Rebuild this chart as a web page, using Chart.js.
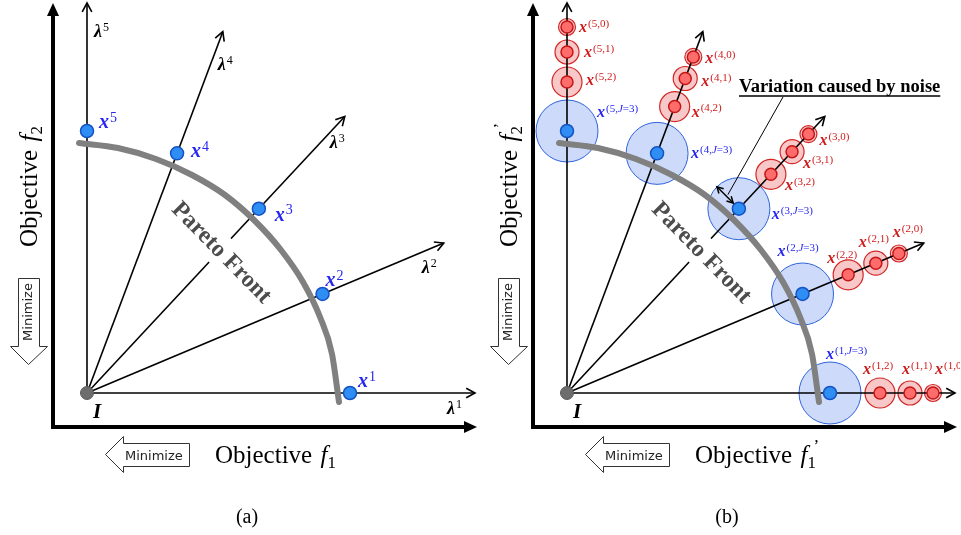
<!DOCTYPE html>
<html>
<head>
<meta charset="utf-8">
<script src="https://cdn.jsdelivr.net/npm/chart.js@4.4.1/dist/chart.umd.min.js"></script>
<style>
    html, body { margin: 0; padding: 0; background: #fff; overflow: hidden; }
    #wrap { position: relative; width: 961px; height: 535px; }
    #wrap canvas { position: absolute; top: 0; }
</style>
</head>
<body>
<div id="wrap">
    <canvas id="panelA" width="480" height="535" style="left:0"></canvas>
    <canvas id="panelB" width="480" height="535" style="left:480px"></canvas>
</div>
<script>
// Weight vectors (rays from the ideal point I), angle in degrees and length
const rayAngles = [0, 22.8, 47.0, 69.4, 90];
const rayLengths = [3.88, 3.87, 3.78, 3.86, 3.90];

// Pareto front
const frontX = [-0.08, 0.31, 0.69, 1.05, 1.38, 1.68, 1.94, 2.16, 2.33, 2.45, 2.52];
const frontY = [2.50, 2.45, 2.34, 2.18, 1.98, 1.72, 1.43, 1.11, 0.76, 0.39, -0.09];

// Distance of each solution from I along its ray
const solutionDist = [2.63, 2.555, 2.52, 2.56, 2.62];      // x^k  /  x^(k,J=3)
const sampleDist0 = [3.66, 3.60, 3.54, 3.59, 3.66];        // x^(k,0)
const sampleDist1 = [3.43, 3.35, 3.30, 3.36, 3.41];        // x^(k,1)
const sampleDist2 = [3.13, 3.05, 2.99, 3.06, 3.11];        // x^(k,2)

// Noise level (radius of the variation circle) for j = 0, 1, 2, J=3
const noiseLevels = [0.085, 0.12, 0.15, 0.31];

// Axis frame
const axisCorner = -0.34;
const axisTip = 3.85;

const SERIF = "'Liberation Serif', 'Times New Roman', serif";
const SANS = "'DejaVu Sans', Verdana, sans-serif";
const BLUE_TEXT = '#2626f0';
const RED_TEXT = '#cf1b1b';

// label offsets (pixels) from the point they belong to
const lambdaOffsets = [[-28, 21], [-22, 30], [-15, 31], [-5, 38], [7, 34]];
const solutionOffsets = [[8, -6], [3, -8], [16, 12], [14, 4], [12, -3]];
const noisyOffsets = [[-4, -34], [-25, -38], [33, 10], [34, 5], [30, -14]];
const sampleOffsets = [
    [[2, -19], [-6, -16], [11, 11], [12, 6], [12, 5]],
    [[-8, -19], [-17, -16], [11, 16], [16, 8], [17, 5]],
    [[-17, -19], [-21, -12], [14, 16], [17, 10], [19, 3]]
];

function polar(r, deg) {
    const a = deg * Math.PI / 180;
    return { x: r * Math.cos(a), y: r * Math.sin(a) };
}

function pxRadius(ctx, level) {
    const s = ctx.chart.scales.x;
    return s.getPixelForValue(level) - s.getPixelForValue(0);
}

function alongRays(dists) {
    return dists.map((r, k) => polar(r, rayAngles[k]));
}

function buildDatasets(noisy) {
    const ds = [];
    ds.push({
        key: 'axes',
        data: [{ x: axisTip, y: axisCorner }, { x: axisCorner, y: axisCorner }, { x: axisCorner, y: axisTip }],
        showLine: true, borderColor: '#000', borderWidth: 4, borderJoinStyle: 'miter',
        pointRadius: 0, order: 100
    });
    rayAngles.forEach((a, k) => ds.push({
        key: 'ray', data: [{ x: 0, y: 0 }, polar(rayLengths[k], a)],
        showLine: true, borderColor: '#000', borderWidth: 1.6, pointRadius: 0, order: 80
    }));
    if (noisy) {
        ds.push({
            key: 'noiseJ', data: alongRays(solutionDist),
            pointRadius: c => pxRadius(c, noiseLevels[3]),
            backgroundColor: 'rgba(196,212,248,0.85)', borderColor: '#2f63dc', borderWidth: 1, order: 90
        });
        [sampleDist0, sampleDist1, sampleDist2].forEach((d, j) => ds.push({
            key: 'halo', data: alongRays(d),
            pointRadius: c => pxRadius(c, noiseLevels[j]),
            backgroundColor: '#f8c8c8', borderColor: '#d32626', borderWidth: 1.2, order: 85
        }));
        [sampleDist0, sampleDist1, sampleDist2].forEach((d, j) => ds.push({
            key: 'sample' + j, data: alongRays(d),
            pointRadius: 6, backgroundColor: '#ff6c6c', borderColor: '#c41616', borderWidth: 1.5, order: 50
        }));
    }
    ds.push({
        key: 'front', data: frontX.map((x, i) => ({ x, y: frontY[i] })),
        showLine: true, cubicInterpolationMode: 'monotone', borderColor: '#808080', borderWidth: 6,
        borderCapStyle: 'round', pointRadius: 0, order: 70
    });
    ds.push({
        key: 'ideal', data: [{ x: 0, y: 0 }],
        pointRadius: 6.5, backgroundColor: '#6d6d6d', borderColor: '#5c5c5c', borderWidth: 1, order: 60
    });
    ds.push({
        key: 'solutions', data: alongRays(solutionDist),
        pointRadius: 6.5, backgroundColor: '#2e8ef4', borderColor: '#1552c4', borderWidth: 1.5, order: 50
    });
    return ds;
}

function metaByKey(chart, key) {
    const out = [];
    chart.data.datasets.forEach((d, i) => { if (d.key === key) out.push(chart.getDatasetMeta(i)); });
    return out;
}

// x^sup style labels
function drawSup(ctx, x, y, base, sup, color, size) {
    ctx.save();
    ctx.fillStyle = color;
    ctx.textAlign = 'left';
    ctx.textBaseline = 'alphabetic';
    ctx.font = `italic bold ${size}px ${SERIF}`;
    ctx.fillText(base, x, y);
    let cx = x + ctx.measureText(base).width + 1;
    const ss = Math.round(size * 0.68);
    const sy = y - size * 0.32;
    sup.split(/(J)/).filter(Boolean).forEach(part => {
        ctx.font = `${part === 'J' ? 'italic ' : ''}${ss}px ${SERIF}`;
        ctx.fillText(part, cx, sy);
        cx += ctx.measureText(part).width;
    });
    ctx.restore();
}

function drawObjective(ctx, x, y, sub, prime) {
    ctx.fillStyle = '#000';
    ctx.textAlign = 'left';
    ctx.textBaseline = 'alphabetic';
    ctx.font = `25px ${SERIF}`;
    ctx.fillText('Objective ', x, y);
    let cx = x + ctx.measureText('Objective ').width + 2;
    ctx.font = `italic 25px ${SERIF}`;
    ctx.fillText('f', cx, y);
    cx += ctx.measureText('f').width;
    ctx.font = `17px ${SERIF}`;
    ctx.fillText(sub, cx, y + 5);
    if (prime) {
        ctx.font = `17px ${SERIF}`;
        ctx.fillText('\u2019', cx + 6, y - 12);
    }
}

function drawMinimize(ctx) {
    ctx.save();
    ctx.strokeStyle = '#333';
    ctx.lineWidth = 1;
    ctx.fillStyle = '#fff';
    // horizontal, pointing left
    ctx.beginPath();
    ctx.moveTo(105.5, 454.5);
    ctx.lineTo(123.5, 436.5);
    ctx.lineTo(123.5, 443.5);
    ctx.lineTo(189.5, 443.5);
    ctx.lineTo(189.5, 466.5);
    ctx.lineTo(123.5, 466.5);
    ctx.lineTo(123.5, 472.5);
    ctx.closePath();
    ctx.fill();
    ctx.stroke();
    ctx.fillStyle = '#222';
    ctx.font = `13px ${SANS}`;
    ctx.textBaseline = 'alphabetic';
    ctx.fillText('Minimize', 125, 460);
    // vertical, pointing down
    ctx.fillStyle = '#fff';
    ctx.beginPath();
    ctx.moveTo(28.5, 364.5);
    ctx.lineTo(10.5, 346.5);
    ctx.lineTo(18.5, 346.5);
    ctx.lineTo(18.5, 278.5);
    ctx.lineTo(39.5, 278.5);
    ctx.lineTo(39.5, 346.5);
    ctx.lineTo(47.5, 346.5);
    ctx.closePath();
    ctx.fill();
    ctx.stroke();
    ctx.translate(29, 312);
    ctx.rotate(-Math.PI / 2);
    ctx.fillStyle = '#222';
    ctx.textAlign = 'center';
    ctx.textBaseline = 'middle';
    ctx.fillText('Minimize', 0, 0);
    ctx.restore();
}

function openArrow(ctx, x0, y0, x1, y1, len) {
    const a = Math.atan2(y1 - y0, x1 - x0);
    ctx.beginPath();
    ctx.moveTo(x1 - len * Math.cos(a - 0.5), y1 - len * Math.sin(a - 0.5));
    ctx.lineTo(x1, y1);
    ctx.lineTo(x1 - len * Math.cos(a + 0.5), y1 - len * Math.sin(a + 0.5));
    ctx.stroke();
}

const figurePlugin = {
    id: 'figure',
    beforeDatasetDraw(chart, args) {
        if (chart.data.datasets[args.index].key !== 'front') return;
        // "Pareto Front" sits over the rays on a white backdrop
        const ctx = chart.ctx;
        const p = polar(1.95, 46.2);
        const px = chart.scales.x.getPixelForValue(p.x);
        const py = chart.scales.y.getPixelForValue(p.y);
        ctx.save();
        ctx.translate(px, py);
        ctx.rotate(45.6 * Math.PI / 180);
        ctx.font = `bold 24px ${SERIF}`;
        const w = ctx.measureText('Pareto Front').width;
        ctx.fillStyle = '#fff';
        ctx.fillRect(-w / 2 - 2, -16, w + 4, 32);
        ctx.fillStyle = '#4d4d4d';
        ctx.textAlign = 'center';
        ctx.textBaseline = 'middle';
        ctx.fillText('Pareto Front', 0, 1);
        ctx.restore();
    },
    afterDatasetsDraw(chart, args, opts) {
        const ctx = chart.ctx;
        const noisy = opts.panel === 'b';

        // axis arrowheads
        const axisPts = metaByKey(chart, 'axes')[0].data;
        ctx.save();
        ctx.fillStyle = '#000';
        const hx = axisPts[0], vy = axisPts[2];
        ctx.beginPath();
        ctx.moveTo(hx.x + 5, hx.y);
        ctx.lineTo(hx.x - 8, hx.y - 6);
        ctx.lineTo(hx.x - 8, hx.y + 6);
        ctx.closePath();
        ctx.fill();
        ctx.beginPath();
        ctx.moveTo(vy.x, vy.y - 5);
        ctx.lineTo(vy.x - 6, vy.y + 8);
        ctx.lineTo(vy.x + 6, vy.y + 8);
        ctx.closePath();
        ctx.fill();

        // ray arrowheads
        ctx.strokeStyle = '#000';
        ctx.lineWidth = 1.6;
        const rays = metaByKey(chart, 'ray');
        rays.forEach(m => openArrow(ctx, m.data[0].x, m.data[0].y, m.data[1].x, m.data[1].y, 10));
        ctx.restore();

        // ideal point label
        const o = metaByKey(chart, 'ideal')[0].data[0];
        ctx.save();
        ctx.fillStyle = '#000';
        ctx.font = `italic bold 21px ${SERIF}`;
        ctx.fillText('I', o.x + 6, o.y + 25);
        ctx.restore();

        const sol = metaByKey(chart, 'solutions')[0].data;
        if (!noisy) {
            rays.forEach((m, k) => {
                const e = m.data[1];
                drawSup(ctx, e.x + lambdaOffsets[k][0], e.y + lambdaOffsets[k][1], '\u03bb', String(k + 1), '#000', 18);
            });
            sol.forEach((p, k) => {
                drawSup(ctx, p.x + solutionOffsets[k][0], p.y + solutionOffsets[k][1], 'x', String(k + 1), BLUE_TEXT, 20);
            });
        } else {
            sol.forEach((p, k) => {
                drawSup(ctx, p.x + noisyOffsets[k][0], p.y + noisyOffsets[k][1], 'x', `(${k + 1},J=3)`, BLUE_TEXT, 16);
            });
            [0, 1, 2].forEach(j => {
                metaByKey(chart, 'sample' + j)[0].data.forEach((p, k) => {
                    const off = sampleOffsets[j][k];
                    drawSup(ctx, p.x + off[0], p.y + off[1], 'x', `(${k + 1},${j})`, RED_TEXT, 16);
                });
            });

            // variation annotation on x^(3,J=3)
            const p = sol[2];
            const r = chart.scales.x.getPixelForValue(noiseLevels[3]) - chart.scales.x.getPixelForValue(0);
            const d = Math.SQRT1_2;
            const a0 = { x: p.x - d * 8, y: p.y - d * 8 };
            const a1 = { x: p.x - d * r, y: p.y - d * r };
            ctx.save();
            ctx.strokeStyle = '#000';
            ctx.lineWidth = 1.5;
            ctx.beginPath();
            ctx.moveTo(a0.x, a0.y);
            ctx.lineTo(a1.x, a1.y);
            ctx.stroke();
            openArrow(ctx, a1.x, a1.y, a0.x, a0.y, 7);
            openArrow(ctx, a0.x, a0.y, a1.x, a1.y, 7);
            ctx.lineWidth = 1;
            ctx.beginPath();
            ctx.moveTo(303, 97);
            ctx.lineTo(p.x - 11, p.y - 14);
            ctx.stroke();
            ctx.font = `bold 18.5px ${SERIF}`;
            ctx.fillStyle = '#000';
            const label = 'Variation caused by noise';
            ctx.fillText(label, 259, 92);
            const w = ctx.measureText(label).width;
            ctx.lineWidth = 1.5;
            ctx.beginPath();
            ctx.moveTo(259, 96);
            ctx.lineTo(259 + w, 96);
            ctx.stroke();
            ctx.restore();
        }

        // axis titles
        ctx.save();
        drawObjective(ctx, 215, 463, '1', noisy);
        ctx.translate(37, 247);
        ctx.rotate(-Math.PI / 2);
        drawObjective(ctx, 0, 0, '2', noisy);
        ctx.restore();

        drawMinimize(ctx);

        // caption
        ctx.save();
        ctx.fillStyle = '#000';
        ctx.font = `20px ${SERIF}`;
        ctx.textAlign = 'center';
        ctx.fillText(noisy ? '(b)' : '(a)', 247, 523);
        ctx.restore();
    }
};

function makePanel(id, panel) {
    return new Chart(document.getElementById(id), {
        type: 'scatter',
        data: { datasets: buildDatasets(panel === 'b') },
        options: {
            responsive: false,
            animation: false,
            events: [],
            layout: { padding: 0, autoPadding: false },
            plugins: {
                legend: { display: false },
                tooltip: { enabled: false },
                figure: { panel }
            },
            scales: {
                x: { type: 'linear', display: false, min: -0.87, max: 3.93 },
                y: { type: 'linear', display: false, min: -1.42, max: 3.93 }
            }
        },
        plugins: [figurePlugin]
    });
}

makePanel('panelA', 'a');
makePanel('panelB', 'b');
</script>
</body>
</html>
